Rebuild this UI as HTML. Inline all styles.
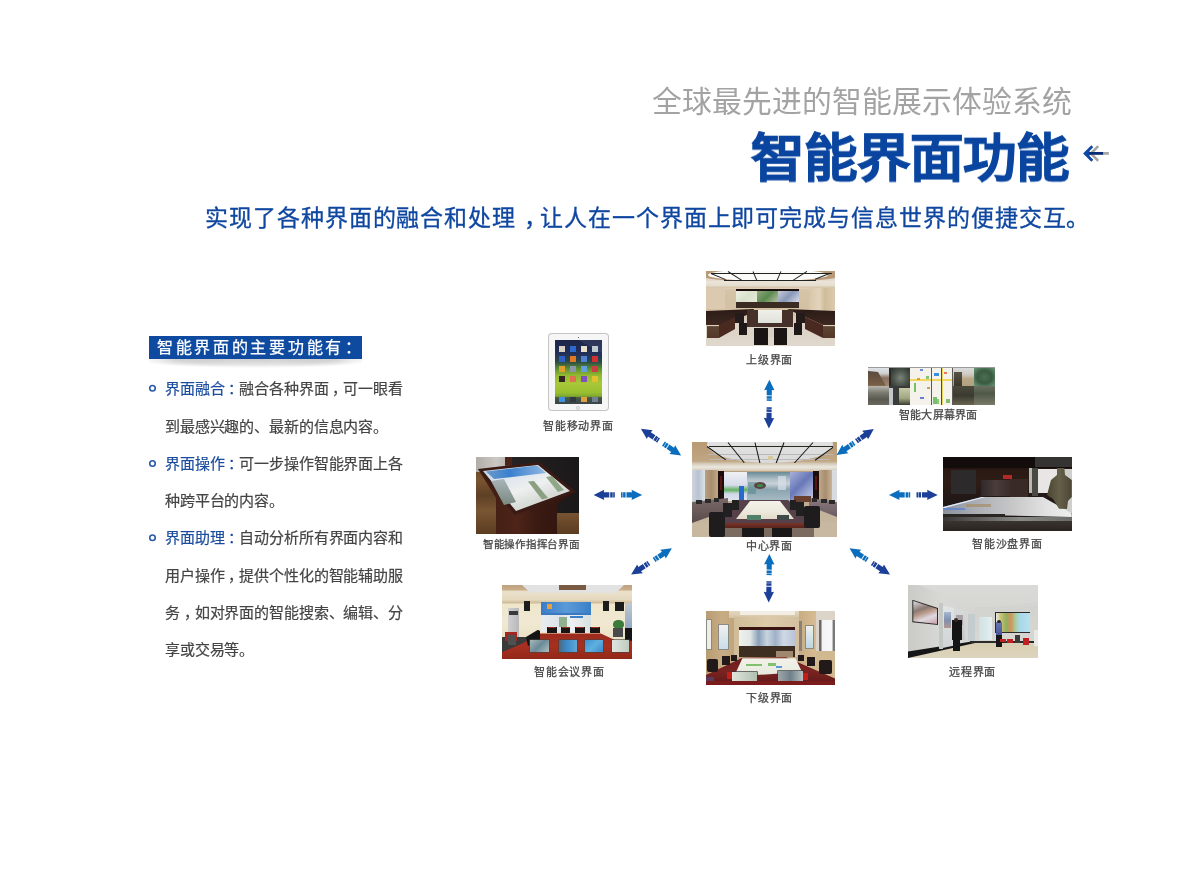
<!DOCTYPE html>
<html lang="zh-CN">
<head>
<meta charset="utf-8">
<style>
html,body{margin:0;padding:0;background:#fff;}
body{width:1200px;height:872px;position:relative;overflow:hidden;font-family:"Liberation Sans",sans-serif;}
.a{position:absolute;white-space:nowrap;line-height:1;will-change:transform;}
.sub{left:652px;top:87px;font-size:29.8px;color:#a3a3a3;}
.title{left:751px;top:133px;font-size:53.5px;font-weight:700;color:#0a46a0;-webkit-text-stroke:1px #0a46a0;transform-origin:0 0;transform:scaleY(.97);}
.desc{left:205px;top:207px;font-size:23px;letter-spacing:0.93px;color:#0f47a0;-webkit-text-stroke:0.3px #0f47a0;}
.box{left:149px;top:336px;width:213px;height:23px;background:#0d4aa0;}
.boxt{left:157px;top:340px;font-size:16px;color:#fff;letter-spacing:2.7px;-webkit-text-stroke:0.25px #fff;}
.boxt .p{left:.05em;}
.desc .p{left:.35em;}
.boxsh{left:149px;top:359px;width:213px;height:9px;background:linear-gradient(90deg,rgba(0,0,0,.18),rgba(0,0,0,.36) 12%,rgba(0,0,0,.22) 40%,rgba(0,0,0,.22) 60%,rgba(0,0,0,.36) 88%,rgba(0,0,0,.18));-webkit-mask-image:radial-gradient(ellipse 60% 100% at 50% 0%,rgba(0,0,0,.9) 0,rgba(0,0,0,.5) 60%,transparent 100%);}
.li{left:165px;font-size:15px;letter-spacing:-0.13px;color:#444;-webkit-text-stroke:0.2px #444;}
.li b{font-weight:normal;color:#1a4c9e;-webkit-text-stroke:0.2px #1a4c9e;}
.dot{width:3.4px;height:3.4px;border:1.8px solid #2858a6;border-radius:50%;left:149px;}
.p{position:relative;left:.25em;}
.lbl{font-size:11px;color:#444;-webkit-text-stroke:0.25px #444;}
.img{position:absolute;overflow:hidden;}
.img i{position:absolute;display:block;}
</style>
</head>
<body>
<div class="a sub">全球最先进的智能展示体验系统</div>
<div class="a title">智能界面功能</div>
<svg class="a" style="left:0;top:0" width="1200" height="200">
<polyline points="1098.2,146.2 1091,153.5 1098.2,160.8" fill="none" stroke="#a3a3a3" stroke-width="2.5"/>
<polyline points="1092.3,146.2 1085,153.5 1092.3,160.8" fill="none" stroke="#0d47a8" stroke-width="2.7" stroke-miterlimit="10"/>
<polygon points="1085.5,153.5 1089.5,150.2 1089.5,156.8" fill="#0d47a8"/>
<rect x="1089" y="152" width="14.5" height="2.8" fill="#0a2b72"/>
<rect x="1103.5" y="152" width="5.4" height="2.8" fill="#a8a8a8"/>
</svg>
<div class="a desc">实现了各种界面的融合和处理<span class="p">，</span>让人在一个界面上即可完成与信息世界的便捷交互。</div>

<div class="a boxsh"></div>
<div class="a box"></div>
<div class="a boxt">智能界面的主要功能有<span class="p">：</span></div>

<svg class="a" style="left:0;top:0" width="200" height="560">
<circle cx="152.5" cy="388.2" r="2.75" fill="none" stroke="#2a5aac" stroke-width="1.6"/>
<circle cx="152.5" cy="463.45" r="2.75" fill="none" stroke="#2a5aac" stroke-width="1.6"/>
<circle cx="152.5" cy="537.7" r="2.75" fill="none" stroke="#2a5aac" stroke-width="1.6"/>
</svg>
<div class="a li" style="top:381px"><b>界面融合<span class="p">：</span></b>融合各种界面<span class="p">，</span>可一眼看</div>
<div class="a li" style="top:419px">到最感兴趣的、最新的信息内容。</div>
<div class="a li" style="top:456px"><b>界面操作<span class="p">：</span></b>可一步操作智能界面上各</div>
<div class="a li" style="top:493px">种跨平台的内容。</div>
<div class="a li" style="top:530px"><b>界面助理<span class="p">：</span></b>自动分析所有界面内容和</div>
<div class="a li" style="top:568px">用户操作<span class="p">，</span>提供个性化的智能辅助服</div>
<div class="a li" style="top:605px">务<span class="p">，</span>如对界面的智能搜索、编辑、分</div>
<div class="a li" style="top:642px">享或交易等。</div>

<!-- images -->
<div class="img" style="left:706px;top:271px;width:129px;height:75px"><i style="left:0px;top:0px;width:129px;height:75px;background:linear-gradient(#d8c8b0 0,#e6ded2 14%,#ece6dc 20%,#d6c4a6 25%,#d4c0a2 52%,#dcd2c6 70%,#e0d8cc 100%)"></i><i style="left:-8px;top:-4px;width:145px;height:15px;border-radius:50%;background:#b89a78"></i><i style="left:1.5px;top:-2px;width:120px;height:12px;border-radius:50%;background:#fbfbfa"></i><i style="left:5px;top:2.3499999999999996px;width:121.0px;height:0.9px;background:#222;transform-origin:0 50%;transform:rotate(0.0deg)"></i><i style="left:18px;top:8.55px;width:92.0px;height:0.9px;background:#222;transform-origin:0 50%;transform:rotate(0.0deg)"></i><i style="left:22px;top:0.04999999999999999px;width:16.6px;height:0.9px;background:#222;transform-origin:0 50%;transform:rotate(32.7deg)"></i><i style="left:47px;top:-0.15000000000000002px;width:10.0px;height:0.9px;background:#222;transform-origin:0 50%;transform:rotate(66.5deg)"></i><i style="left:75px;top:-0.15000000000000002px;width:10.0px;height:0.9px;background:#222;transform-origin:0 50%;transform:rotate(113.5deg)"></i><i style="left:101px;top:0.04999999999999999px;width:16.6px;height:0.9px;background:#222;transform-origin:0 50%;transform:rotate(147.3deg)"></i><i style="left:5px;top:2.4499999999999997px;width:16.2px;height:0.7px;background:#222;transform-origin:0 50%;transform:rotate(22.5deg)"></i><i style="left:124px;top:2.4499999999999997px;width:16.2px;height:0.7px;background:#222;transform-origin:0 50%;transform:rotate(157.5deg)"></i><i style="left:0px;top:9.6px;width:129px;height:7.5px;background:linear-gradient(#ebe4d8,#e6dfd2 60%,#d4c2a4)"></i><i style="left:0px;top:17px;width:19px;height:21px;background:#dccab0"></i><i style="left:103px;top:17px;width:26px;height:23px;background:linear-gradient(90deg,#d8c6a8,#e2d4bc 40%,#d0bc9a 60%,#dccab0)"></i><i style="left:30px;top:17.6px;width:63px;height:2.6px;background:#1a0c0a"></i><i style="left:30px;top:20.2px;width:21px;height:11px;background:linear-gradient(135deg,#f0f0e4,#d8e2cc 50%,#e8e8d8)"></i><i style="left:51px;top:20.2px;width:21px;height:11px;background:linear-gradient(135deg,#90a880,#5a8a50 50%,#b8c0a0)"></i><i style="left:72px;top:20.2px;width:21px;height:11px;background:linear-gradient(135deg,#c8ccd8,#8898b8 50%,#d8dce8)"></i><i style="left:30px;top:31.2px;width:63px;height:6px;background:#3a2c22"></i><i style="left:0px;top:38px;width:48px;height:16px;clip-path:polygon(0.0px 2.0px,48.0px 0.0px,46.0px 4.0px,15.0px 16.0px,0.0px 16.0px);background:linear-gradient(#2a1a16,#3e2820)"></i><i style="left:1px;top:54px;width:12px;height:13px;background:linear-gradient(#e0d0c0 0,#e0d0c0 8%,#5e4432 12%,#54392a)"></i><i style="left:13px;top:46px;width:16px;height:21px;clip-path:polygon(0.0px 8.0px,16.0px 0.0px,16.0px 12.0px,0.0px 21.0px);background:#4a2a20"></i><i style="left:29px;top:42px;width:9px;height:10px;background:#241c1a"></i><i style="left:33px;top:52px;width:8px;height:12px;background:#1e1818"></i><i style="left:81px;top:38px;width:48px;height:16px;clip-path:polygon(0.0px 0.0px,48.0px 2.0px,48.0px 16.0px,36.0px 16.0px,18.0px 8.0px);background:linear-gradient(#2a1a16,#3e2820)"></i><i style="left:117px;top:54px;width:12px;height:13px;background:linear-gradient(#e0d0c0 0,#e0d0c0 8%,#5e4432 12%,#54392a)"></i><i style="left:99px;top:46px;width:18px;height:21px;clip-path:polygon(0.0px 0.0px,18.0px 8.0px,18.0px 21.0px,0.0px 12.0px);background:#4a2a20"></i><i style="left:90px;top:42px;width:9px;height:10px;background:#241c1a"></i><i style="left:88px;top:52px;width:8px;height:12px;background:#1e1818"></i><i style="left:41px;top:39px;width:46px;height:17px;background:#46302a"></i><i style="left:52px;top:39px;width:24px;height:13px;background:linear-gradient(#f0f0ea,#e0e2da)"></i><i style="left:48px;top:57px;width:14px;height:17px;background:#1a1414"></i><i style="left:68px;top:57px;width:13px;height:17px;background:#1a1414"></i><i style="left:62px;top:56px;width:6px;height:10px;background:#d8d0c4"></i></div>
<div class="img" style="left:548px;top:333px;width:61px;height:78px"><i style="left:0px;top:0px;width:61px;height:78px;background:#f6f6f6;border-radius:4px;box-shadow:inset 0 0 0 1px #c4c4c4"></i><i style="left:7px;top:7px;width:47px;height:64px;background:linear-gradient(#1c2448 0,#22305a 22%,#2a4a48 34%,#5a8a30 44%,#90b830 55%,#a8c838 68%,#98c030 82%,#80a830 88%,#485848 90%,#3a4248 100%)"></i><i style="left:30px;top:7px;width:24px;height:13px;clip-path:polygon(0.0px 0.0px,24.0px 0.0px,24.0px 13.0px);background:rgba(255,255,255,.08)"></i><i style="left:29.5px;top:3.5px;width:1.5px;height:1.5px;background:#333;border-radius:50%"></i><i style="left:28px;top:72.5px;width:4px;height:4px;border:0.6px solid #ccc;border-radius:50%;box-sizing:border-box"></i><i style="left:11.4px;top:12.9px;width:5.8px;height:5.8px;background:#d8d0c0"></i><i style="left:22.3px;top:12.9px;width:5.8px;height:5.8px;background:#2a6ad0"></i><i style="left:33.2px;top:12.9px;width:5.8px;height:5.8px;background:#e8e0c8"></i><i style="left:44.1px;top:12.9px;width:5.8px;height:5.8px;background:#c0c8d0"></i><i style="left:11.4px;top:23.0px;width:5.8px;height:5.8px;background:#3060c0"></i><i style="left:22.3px;top:23.0px;width:5.8px;height:5.8px;background:#e07a20"></i><i style="left:33.2px;top:23.0px;width:5.8px;height:5.8px;background:#5080d0"></i><i style="left:44.1px;top:23.0px;width:5.8px;height:5.8px;background:#d03030"></i><i style="left:11.4px;top:33.1px;width:5.8px;height:5.8px;background:#e0a030"></i><i style="left:22.3px;top:33.1px;width:5.8px;height:5.8px;background:#8898a8"></i><i style="left:33.2px;top:33.1px;width:5.8px;height:5.8px;background:#60a0e0"></i><i style="left:44.1px;top:33.1px;width:5.8px;height:5.8px;background:#c84040"></i><i style="left:11.4px;top:43.199999999999996px;width:5.8px;height:5.8px;background:#302820"></i><i style="left:22.3px;top:43.199999999999996px;width:5.8px;height:5.8px;background:#e07050"></i><i style="left:33.2px;top:43.199999999999996px;width:5.8px;height:5.8px;background:#8050c0"></i><i style="left:44.1px;top:43.199999999999996px;width:5.8px;height:5.8px;background:#e0c030"></i><i style="left:11.4px;top:63.8px;width:5.8px;height:4.8px;background:#4090e0"></i><i style="left:22.3px;top:63.8px;width:5.8px;height:4.8px;background:#303840"></i><i style="left:33.2px;top:63.8px;width:5.8px;height:4.8px;background:#e0a040"></i><i style="left:44.1px;top:63.8px;width:5.8px;height:4.8px;background:#708090"></i></div>
<div class="img" style="left:868px;top:367px;width:127px;height:38px"><i style="left:0px;top:0px;width:127px;height:38px;background:#5a5a4c"></i><i style="left:0px;top:0px;width:127px;height:0.8px;background:#9a9a9a"></i><i style="left:0px;top:0.8px;width:21px;height:18px;background:linear-gradient(#dfe2e8 0,#d0d0d0 30%,#8a7060 55%,#a08a70 100%)"></i><i style="left:0px;top:4px;width:18px;height:14.7px;clip-path:polygon(0.0px 0.0px,10.0px 1.0px,14.0px 8.0px,18.0px 14.7px,0.0px 14.7px);background:linear-gradient(#5a4a3c,#7a6048)"></i><i style="left:21px;top:0.8px;width:1.8px;height:18px;background:#2a2a28"></i><i style="left:22.8px;top:0.8px;width:19.2px;height:18px;background:radial-gradient(ellipse at 50% 55%,#7a8478 0,#4a524a 55%,#2a302a 100%)"></i><i style="left:21px;top:18.7px;width:21px;height:2.6px;background:#3a3a38"></i><i style="left:0px;top:18.7px;width:21px;height:19.3px;background:linear-gradient(#b8b8b0 0,#7a7a70 35%,#5a5850 70%,#6a6a60)"></i><i style="left:21px;top:21.3px;width:4px;height:16.7px;background:#c4c8cc"></i><i style="left:25px;top:21.3px;width:6px;height:16.7px;background:#3a3c3a"></i><i style="left:31px;top:21.3px;width:11px;height:16.7px;background:linear-gradient(#c8c8a8,#a0a880 60%,#3a3a30)"></i><i style="left:42px;top:0.8px;width:43px;height:37.2px;background:#f4f2ea"></i><i style="left:42px;top:12px;width:43px;height:1.7px;background:#f0d860"></i><i style="left:46.1px;top:15.8px;width:2.1px;height:9px;background:#78c068"></i><i style="left:52px;top:2px;width:3px;height:1.5px;background:#6a8ae0"></i><i style="left:49px;top:11px;width:2.5px;height:1.5px;background:#e0a030"></i><i style="left:59px;top:20px;width:3px;height:1.5px;background:#c8a060"></i><i style="left:52px;top:30px;width:4px;height:1.5px;background:#6a7ad0"></i><i style="left:58px;top:9px;width:2.5px;height:2.5px;background:#80c878"></i><i style="left:66px;top:6px;width:5px;height:2.5px;background:#3a90e0"></i><i style="left:73px;top:0.8px;width:1.6px;height:37.2px;background:#e8d860"></i><i style="left:63px;top:0.8px;width:1.1px;height:37.2px;background:#5a5a5a"></i><i style="left:73px;top:0.8px;width:1px;height:37.2px;background:#4a4a4a"></i><i style="left:84.3px;top:0.8px;width:0.9px;height:37.2px;background:#5a5a5a"></i><i style="left:65px;top:30px;width:4px;height:7px;background:#78c070"></i><i style="left:69px;top:32px;width:2px;height:5px;background:#90c878"></i><i style="left:78px;top:32px;width:4px;height:4px;background:#80c070"></i><i style="left:76px;top:5px;width:3px;height:1.5px;background:#e87a50"></i><i style="left:85.2px;top:0.8px;width:21px;height:18px;background:linear-gradient(#dcdcdc 0,#d0ccc4 35%,#b8a888 60%,#b0a080)"></i><i style="left:86px;top:5px;width:8px;height:14px;background:linear-gradient(#5a5448,#3a3628)"></i><i style="left:106.2px;top:0.8px;width:20.8px;height:18px;background:radial-gradient(ellipse at 50% 50%,#4a7050 0,#3a5a40 50%,#6a9a78 100%)"></i><i style="left:85.2px;top:18.7px;width:21px;height:19.3px;background:linear-gradient(#4a4a3c 0,#3a3a30 50%,#6a6450)"></i><i style="left:106.2px;top:18.7px;width:20.8px;height:19.3px;background:linear-gradient(#6a7060 0,#505848 40%,#7a7a68)"></i></div>
<div class="img" style="left:476px;top:457px;width:103px;height:77px"><i style="left:0px;top:0px;width:103px;height:77px;background:linear-gradient(180deg,#5a3a1e,#7a5430 30%,#5e4024 50%,#7a5634 70%,#5a3c20)"></i><i style="left:0px;top:0px;width:29px;height:15px;background:linear-gradient(90deg,#b0aca8,#ccc8c4 70%,#bcb8b4)"></i><i style="left:29px;top:0px;width:7px;height:8px;background:#4a2418"></i><i style="left:36px;top:0px;width:67px;height:56px;background:linear-gradient(90deg,#242222,#1a1818)"></i><i style="left:2px;top:12px;width:98px;height:65px;clip-path:polygon(0.0px 0.0px,18.0px 29.0px,18.0px 65.0px,79.0px 65.0px,79.0px 35.0px,98.0px 23.0px);background:linear-gradient(90deg,#3e1c14,#4e2418 40%,#3a1a12 60%,#2e140e)"></i><i style="left:2px;top:5px;width:98px;height:53px;clip-path:polygon(0.0px 7.0px,61.3px 0.0px,98.0px 29.7px,36.7px 53.0px);background:#3a1a14"></i><i style="left:7px;top:8px;width:87px;height:46px;clip-path:polygon(0.0px 6.0px,55.0px 0.0px,87.0px 26.0px,33.0px 46.0px);background:linear-gradient(160deg,#b8cce0 0,#dfe6ee 30%,#eef0f0 50%,#d8dcd8 70%,#c8d0c8 100%)"></i><i style="left:10px;top:8.5px;width:60px;height:13.5px;clip-path:polygon(0.0px 6.0px,51.0px 0.0px,60.0px 7.5px,8.0px 13.5px);background:linear-gradient(90deg,#6a9ac8,#3a80d0 40%,#90b8e0)"></i><i style="left:15px;top:22px;width:25px;height:26px;clip-path:polygon(0.0px 2.0px,13.0px 0.0px,25.0px 23.0px,13.0px 26.0px);background:linear-gradient(#a8b4b8,#7a8a80)"></i><i style="left:52px;top:24px;width:20px;height:18.5px;clip-path:polygon(0.0px 0.6px,6.0px 0.0px,20.0px 17.0px,14.0px 18.5px);background:#8aa080"></i><i style="left:70px;top:19px;width:18px;height:16px;clip-path:polygon(0.0px 1.0px,6.0px 0.0px,18.0px 14.0px,12.0px 16.0px);background:#90a888"></i></div>
<div class="img" style="left:692px;top:442px;width:145px;height:95px"><i style="left:0px;top:0px;width:145px;height:95px;background:linear-gradient(#b89a74 0,#c0a682 20%,#dcd6ca 24%,#e6e2da 28%,#b8a080 31%,#bca688 60%,#c4b49e 75%,#c8b8a2 100%)"></i><i style="left:14.7px;top:-16px;width:126px;height:37px;border-radius:50%;background:linear-gradient(#e6e6e6,#dadada)"></i><i style="left:17px;top:3.6px;width:124.0px;height:0.8px;background:#2a2620;transform-origin:0 50%;transform:rotate(0.0deg)"></i><i style="left:16px;top:11.8px;width:125.0px;height:0.4px;background:#b8b8b8;transform-origin:0 50%;transform:rotate(0.0deg)"></i><i style="left:18px;top:16.8px;width:120.0px;height:0.4px;background:#bbbbbb;transform-origin:0 50%;transform:rotate(0.0deg)"></i><i style="left:36px;top:-0.5px;width:25.6px;height:1px;background:#111;transform-origin:0 50%;transform:rotate(51.3deg)"></i><i style="left:63px;top:-0.5px;width:21.6px;height:1px;background:#111;transform-origin:0 50%;transform:rotate(76.6deg)"></i><i style="left:92px;top:-0.5px;width:22.5px;height:1px;background:#111;transform-origin:0 50%;transform:rotate(110.9deg)"></i><i style="left:121px;top:-0.5px;width:28.3px;height:1px;background:#111;transform-origin:0 50%;transform:rotate(132.1deg)"></i><i style="left:15px;top:4.05px;width:23.3px;height:0.9px;background:#111;transform-origin:0 50%;transform:rotate(35.4deg)"></i><i style="left:141px;top:4.55px;width:22.2px;height:0.9px;background:#111;transform-origin:0 50%;transform:rotate(144.2deg)"></i><i style="left:76px;top:14px;width:5px;height:4px;background:#d8c8a0"></i><i style="left:0px;top:21px;width:145px;height:8px;background:linear-gradient(#cfc4b0,#ebe8e0 50%,#d4c8b4)"></i><i style="left:0px;top:28px;width:12.8px;height:36px;background:linear-gradient(90deg,#cfd4d8,#b8c4d4 50%,#dde2e6)"></i><i style="left:140px;top:28px;width:5px;height:36px;background:#d8dce0"></i><i style="left:12.8px;top:28px;width:13.2px;height:33px;background:linear-gradient(90deg,#b8a080,#a88e70 50%,#c0a888)"></i><i style="left:126.8px;top:28px;width:13.2px;height:33px;background:linear-gradient(90deg,#c0a888,#a88e70 50%,#c8b498)"></i><i style="left:26px;top:29px;width:6px;height:30px;background:#1c0e0c"></i><i style="left:120.6px;top:29px;width:6.2px;height:30px;background:#1c0e0c"></i><i style="left:27.5px;top:34px;width:2px;height:14px;background:#6a1a14;opacity:.8"></i><i style="left:122.5px;top:34px;width:2px;height:14px;background:#6a1a14;opacity:.8"></i><i style="left:32px;top:29.5px;width:23px;height:29.5px;background:linear-gradient(#f0f0f2 0,#d8dcec 45%,#60b060 62%,#d0d8e8 75%,#e0e4ee 100%)"></i><i style="left:47px;top:44px;width:5px;height:15px;background:#2a6ad0"></i><i style="left:55px;top:29.5px;width:42.7px;height:29.5px;background:linear-gradient(#6a8a98 0,#b0c0c8 25%,#c8d0d8 40%,#8aa4b0 60%,#a8bcc4 100%)"></i><i style="left:56px;top:40px;width:8px;height:12px;background:#5a8a90;opacity:.6"></i><i style="left:86px;top:34px;width:8px;height:14px;background:#d8e0e8;opacity:.7"></i><i style="left:62px;top:40px;width:12px;height:7px;background:#5a4440;border-radius:50%"></i><i style="left:65px;top:42px;width:6px;height:3px;background:#3a8a50;border-radius:50%"></i><i style="left:97.7px;top:29.5px;width:23px;height:29.5px;background:linear-gradient(135deg,#a8b0d8,#6878b8 45%,#98a4d0 70%,#c0c8e4)"></i><i style="left:0px;top:56px;width:36px;height:25px;clip-path:polygon(0.0px 4.0px,36.0px 0.0px,36.0px 12.0px,0.0px 25.0px);background:linear-gradient(#7a6868,#5a4c4c)"></i><i style="left:117px;top:56px;width:28px;height:19px;clip-path:polygon(28.0px 4.0px,0.0px 0.0px,0.0px 8.0px,28.0px 19.0px);background:linear-gradient(#8a7a80,#6a5c60)"></i><i style="left:4px;top:58px;width:6px;height:4px;background:#2a2a2a"></i><i style="left:13px;top:57px;width:6px;height:4px;background:#2a2a2a"></i><i style="left:22px;top:56px;width:5px;height:4px;background:#2a2a2a"></i><i style="left:120px;top:56px;width:5px;height:4px;background:#2a2a2a"></i><i style="left:129px;top:57px;width:6px;height:4px;background:#2a2a2a"></i><i style="left:137px;top:58px;width:6px;height:4px;background:#2a2a2a"></i><i style="left:102px;top:54px;width:17px;height:6px;background:#6a4030"></i><i style="left:21px;top:58px;width:101px;height:23px;clip-path:polygon(27.0px 0.0px,75.0px 0.0px,101.0px 23.0px,0.0px 23.0px);background:#56404a"></i><i style="left:21px;top:80.5px;width:101px;height:5.5px;background:linear-gradient(#7a3428,#5a241c)"></i><i style="left:44px;top:59px;width:58px;height:18px;clip-path:polygon(14.0px 0.0px,44.0px 0.0px,58.0px 18.0px,0.0px 18.0px);background:linear-gradient(#f4f2ea,#ece8dc 60%,#e0dcc8)"></i><i style="left:55px;top:73px;width:14px;height:5px;background:#50806a"></i><i style="left:85px;top:73px;width:12px;height:5px;background:#404848"></i><i style="left:30px;top:86px;width:92px;height:9px;background:#7a6a60"></i><i style="left:50px;top:86px;width:22px;height:9px;background:#1a1818"></i><i style="left:80px;top:86px;width:20px;height:9px;background:#1a1818"></i><i style="left:16.6px;top:69.6px;width:16px;height:25px;background:#1e1c1c;border-radius:2px"></i><i style="left:31px;top:61px;width:9px;height:14px;background:#202020"></i><i style="left:40px;top:58px;width:7px;height:10px;background:#202020"></i><i style="left:111.8px;top:64px;width:16px;height:22px;background:#1e1c1c;border-radius:2px"></i><i style="left:104px;top:60px;width:8px;height:14px;background:#202020"></i><i style="left:98px;top:58px;width:6px;height:10px;background:#202020"></i><i style="left:0px;top:81px;width:16px;height:14px;background:#c8b8a0"></i><i style="left:130px;top:80px;width:15px;height:15px;background:#c8b8a2"></i></div>
<div class="img" style="left:943px;top:457px;width:129px;height:74px"><i style="left:0px;top:0px;width:129px;height:74px;background:linear-gradient(#120c0a 0,#120c0a 14%,#2a1814 16%,#2e1c16 35%,#221816 55%,#1e1a18 100%)"></i><i style="left:92px;top:0px;width:37px;height:10px;background:#363432"></i><i style="left:7.8px;top:13.3px;width:24.8px;height:24px;background:#2c2a2a"></i><i style="left:38px;top:23.4px;width:29px;height:16px;background:linear-gradient(90deg,#2e2a2a,#4a3c3a 50%,#3a2e2c)"></i><i style="left:60.1px;top:17.9px;width:9px;height:4.6px;background:#b02a28"></i><i style="left:67px;top:22px;width:18px;height:18px;background:#3a2a26"></i><i style="left:85.7px;top:10.6px;width:3.6px;height:25.4px;background:#b8b8b4"></i><i style="left:89.3px;top:10.6px;width:5.5px;height:28px;background:#4a4a44"></i><i style="left:94.8px;top:11.5px;width:20.2px;height:24.7px;background:#e8e6e4"></i><i style="left:114px;top:11.5px;width:15px;height:44px;background:#cfcfcb"></i><i style="left:0px;top:39.5px;width:128.8px;height:20.5px;clip-path:polygon(0.0px 10.5px,40.8px 0.0px,100.0px 0.5px,128.8px 16.9px,128.8px 20.5px,0.0px 17.8px);background:linear-gradient(90deg,#8a929c 0,#aaaeb4 25%,#c8c8c8 55%,#e2e2e2 80%,#eeeeee 100%)"></i><i style="left:0px;top:39.5px;width:42px;height:12.100000000000001px;clip-path:polygon(0.0px 10.5px,40.8px 0.0px,42.0px 0.7px,0.0px 12.1px);background:#e0ecff"></i><i style="left:0px;top:51px;width:22px;height:2px;background:#6a88c8"></i><i style="left:23.4px;top:46.8px;width:25px;height:3px;background:#a89070;opacity:.8"></i><i style="left:0px;top:60px;width:129px;height:4px;background:linear-gradient(90deg,#3a3836,#8a8a88 60%,#6a6a68)"></i><i style="left:0px;top:57.3px;width:62px;height:3px;background:#2a2624"></i><i style="left:0px;top:63.8px;width:129px;height:10.2px;background:linear-gradient(#3a3430,#2a2420)"></i><i style="left:104px;top:10.6px;width:24.80000000000001px;height:41.4px;clip-path:polygon(10.0px 0.0px,17.4px 0.0px,18.0px 7.4px,24.8px 12.4px,24.8px 29.4px,21.0px 33.4px,20.0px 41.4px,12.0px 41.2px,6.0px 31.4px,0.0px 27.4px,4.0px 12.4px,10.0px 7.4px);background:linear-gradient(90deg,#4a4632,#66604a 50%,#4a4434)"></i></div>
<div class="img" style="left:502px;top:585px;width:130px;height:74px"><i style="left:0px;top:0px;width:130px;height:74px;background:linear-gradient(#c0a080 0,#c8ac88 6%,#ece2cc 9%,#e4d8be 20%,#d0bc98 24%,#efe6cc 26%,#f0e8d2 50%,#ece2c8 70%)"></i><i style="left:20px;top:0px;width:102px;height:8px;clip-path:polygon(0.0px 0.0px,102.0px 0.0px,94.0px 8.0px,8.0px 7.5px);background:#e2e2e2"></i><i style="left:56.7px;top:0px;width:27.3px;height:4.5px;background:#7a5a40"></i><i style="left:5.8px;top:23px;width:11.5px;height:30px;background:linear-gradient(90deg,#d0d0d0,#b8b8b8)"></i><i style="left:7px;top:26px;width:9px;height:4px;background:#3a3a3a"></i><i style="left:38.8px;top:16.7px;width:50px;height:11px;background:linear-gradient(90deg,#3a7cc8,#5a9ad8 50%,#3a80c8)"></i><i style="left:45px;top:19px;width:5px;height:5px;background:#e8a040"></i><i style="left:38.8px;top:27.7px;width:50px;height:2px;background:#3a78c0"></i><i style="left:38.8px;top:29.7px;width:50px;height:17px;background:linear-gradient(90deg,#e8ecf0,#dde4e8 40%,#eef0f2 60%,#d8e0e0)"></i><i style="left:57px;top:32px;width:8px;height:10px;background:#90b090"></i><i style="left:68px;top:31px;width:13px;height:2px;background:#3a80c8"></i><i style="left:22px;top:15.8px;width:6.3px;height:10.6px;background:#1c1c1c"></i><i style="left:100.6px;top:15.8px;width:6.4px;height:10.6px;background:#1c1c1c"></i><i style="left:113px;top:16.7px;width:8.7px;height:9.2px;background:#1c1c1c"></i><i style="left:122.6px;top:18px;width:7.4px;height:25px;background:linear-gradient(#c0c8d0,#90a8c0)"></i><i style="left:122.6px;top:43px;width:7.4px;height:20px;background:#141414"></i><i style="left:110.7px;top:35px;width:11px;height:9px;background:#3a7a3a;border-radius:45%"></i><i style="left:111px;top:43px;width:9.8px;height:9px;background:#4a4a4a"></i><i style="left:45.2px;top:42.4px;width:9.7px;height:6px;background:#1a1414"></i><i style="left:59px;top:42.4px;width:9px;height:6px;background:#1a1414"></i><i style="left:73px;top:42.4px;width:9.7px;height:6px;background:#1a1414"></i><i style="left:87.8px;top:42.4px;width:10px;height:6px;background:#1a1414"></i><i style="left:46px;top:41.5px;width:8px;height:1.5px;background:#9a3020"></i><i style="left:59.5px;top:41.5px;width:8px;height:1.5px;background:#9a3020"></i><i style="left:74px;top:41.5px;width:8px;height:1.5px;background:#9a3020"></i><i style="left:88.5px;top:41.5px;width:8px;height:1.5px;background:#9a3020"></i><i style="left:0px;top:52px;width:38px;height:22px;background:#3a3a3a"></i><i style="left:0px;top:48.4px;width:130px;height:25.6px;clip-path:polygon(0.0px 18.6px,21.0px 9.6px,38.0px 0.0px,98.8px 0.0px,114.4px 7.3px,130.0px 7.3px,130.0px 25.6px,0.0px 25.6px);background:linear-gradient(#9a2a1c,#a83020 50%,#922818)"></i><i style="left:0px;top:52px;width:21px;height:15px;clip-path:polygon(0.0px 0.0px,21.0px 0.0px,21.0px 6.0px,0.0px 15.0px);background:#3a3a3a"></i><i style="left:3px;top:46.5px;width:12.4px;height:9px;background:#a02820"></i><i style="left:6px;top:50px;width:8px;height:10px;background:#505050"></i><i style="left:24px;top:44.7px;width:14px;height:16.299999999999997px;clip-path:polygon(0.0px 7.3px,12.0px 0.0px,14.0px 1.3px,14.0px 11.3px,2.0px 16.3px);background:#141414"></i><i style="left:28.3px;top:54.8px;width:18.3px;height:11.9px;background:linear-gradient(135deg,#a8b8b8,#6a8a98 50%,#b0c0c0);box-shadow:0 0 0 .6px #444"></i><i style="left:57.2px;top:54.8px;width:17.8px;height:11.9px;background:linear-gradient(90deg,#506878,#3a88c8 40%,#60a8d8);box-shadow:0 0 0 .6px #444"></i><i style="left:82.7px;top:54.8px;width:17.9px;height:11.9px;background:linear-gradient(135deg,#3a90d0,#60b0e0 50%,#3a88c8);box-shadow:0 0 0 .6px #444"></i><i style="left:109.8px;top:54.8px;width:17.2px;height:11.9px;background:linear-gradient(90deg,#e0e4e0,#c0ccc0);box-shadow:0 0 0 .6px #444"></i></div>
<div class="img" style="left:706px;top:611px;width:129px;height:74px"><i style="left:0px;top:0px;width:129px;height:74px;background:#c4a880"></i><i style="left:0px;top:0px;width:28.2px;height:64px;background:linear-gradient(90deg,#b89c74,#c8ac84 60%,#c0a47c)"></i><i style="left:22.7px;top:0px;width:76px;height:6.5px;background:linear-gradient(#e4d8c0,#d4c4a4)"></i><i style="left:33.7px;top:0px;width:55px;height:3.5px;background:#f2eee4"></i><i style="left:28.2px;top:6px;width:65px;height:40px;background:linear-gradient(90deg,#d0bc98,#dccaa8 50%,#d4c0a0)"></i><i style="left:33.2px;top:15.6px;width:55.4px;height:3.7px;background:#3a1410"></i><i style="left:33.2px;top:19.3px;width:55.4px;height:15.6px;background:linear-gradient(90deg,#f0f2ee 0,#dfe6e4 20%,#8aa0b8 35%,#c8d4e0 50%,#a0b0c8 65%,#d0d8e4 80%,#b8c4d8 100%)"></i><i style="left:33.2px;top:34.9px;width:55.4px;height:11.4px;background:#3e2e22"></i><i style="left:70px;top:40px;width:16.8px;height:6.3px;background:#a08870"></i><i style="left:0px;top:8.3px;width:5.7px;height:31.2px;background:#eeeee8;box-shadow:inset 0 0 0 1px #8a8a84"></i><i style="left:11.7px;top:13.3px;width:11px;height:25.7px;background:linear-gradient(#f0f2f0,#c8dce8);box-shadow:inset 0 0 0 1px #8a8a80"></i><i style="left:93.2px;top:0px;width:16.5px;height:66px;background:linear-gradient(90deg,#c8ac84,#d6bc94)"></i><i style="left:93.2px;top:10px;width:3px;height:30px;background:#8a8078"></i><i style="left:99px;top:14.2px;width:9.3px;height:24.3px;background:linear-gradient(#f0f2ee,#b8d4e4);box-shadow:inset 0 0 0 1px #8a8a80"></i><i style="left:109.7px;top:0px;width:19.3px;height:43px;background:#dcd4c8"></i><i style="left:113px;top:8.7px;width:16px;height:34px;background:linear-gradient(90deg,#6a6a6a 0,#6a6a6a 12%,#f4f4f4 20%,#f8f8f8 80%,#7a7a7a 90%)"></i><i style="left:109.7px;top:40px;width:19.3px;height:27px;background:#d0b890"></i><i style="left:0px;top:46.3px;width:129px;height:27.700000000000003px;clip-path:polygon(0.0px 17.7px,36.4px 0.5px,80.3px 0.0px,129.0px 21.1px,129.0px 27.7px,0.0px 27.7px);background:linear-gradient(#6a1c1a,#7a2422 50%,#5e1818)"></i><i style="left:0px;top:66px;width:8px;height:8px;background:#5a3a5a"></i><i style="left:28px;top:47.3px;width:68px;height:18.299999999999997px;clip-path:polygon(8.4px 0.0px,61.5px 0.0px,68.0px 13.7px,0.0px 18.3px);background:linear-gradient(#f2f2ea,#e6e8dc)"></i><i style="left:40px;top:53px;width:16px;height:2px;background:#80c070"></i><i style="left:62px;top:52px;width:8px;height:2.5px;background:#80c070"></i><i style="left:70px;top:55px;width:6px;height:2px;background:#5a9ad8"></i><i style="left:26.4px;top:61px;width:24.6px;height:9.2px;background:linear-gradient(90deg,#e0e4dc,#b0c0b0);box-shadow:0 0 0 .7px #333"></i><i style="left:72px;top:60px;width:24.9px;height:10.2px;background:linear-gradient(90deg,#a0a8a8,#70808a 50%,#b8c0c0);box-shadow:0 0 0 .7px #333"></i><i style="left:21px;top:61px;width:5.4px;height:7.4px;background:#c02018"></i><i style="left:97px;top:62px;width:5px;height:7px;background:#c02018"></i><i style="left:0px;top:70.2px;width:129px;height:3.8px;background:#7a1c1c"></i><i style="left:1px;top:48.2px;width:10.7px;height:12.8px;background:#221a1a;border-radius:2px"></i><i style="left:15.8px;top:45.4px;width:7.8px;height:8.3px;background:#221a1a"></i><i style="left:25.4px;top:43.6px;width:5.6px;height:6.4px;background:#221a1a"></i><i style="left:113.4px;top:49px;width:12.8px;height:13.9px;background:#221a1a;border-radius:2px"></i><i style="left:100.5px;top:46.3px;width:8.3px;height:9.2px;background:#221a1a"></i><i style="left:92.3px;top:44px;width:5.5px;height:6px;background:#221a1a"></i></div>
<div class="img" style="left:908px;top:585px;width:130px;height:73px"><i style="left:0px;top:0px;width:130px;height:73px;background:#d4d4d0"></i><i style="left:10.8px;top:0px;width:119.2px;height:23.4px;clip-path:polygon(0.0px 0.0px,119.2px 0.0px,119.2px 17.0px,56.2px 23.4px);background:linear-gradient(#dadad6,#d6d6d2)"></i><i style="left:0px;top:0px;width:67px;height:67.4px;clip-path:polygon(0.0px 0.0px,10.8px 0.0px,67.0px 23.4px,67.0px 56.4px,0.0px 67.4px);background:linear-gradient(90deg,#cacac6,#d8d8d4 50%,#d4d4d0)"></i><i style="left:67px;top:22px;width:63px;height:37px;background:linear-gradient(#d2d2ce,#d6d6d2)"></i><i style="left:0px;top:57px;width:130px;height:16px;clip-path:polygon(0.0px 13.0px,67.0px 0.0px,130.0px 2.2px,130.0px 16.0px,0.0px 16.0px);background:linear-gradient(#d8ceb2,#dcd4bc)"></i><i style="left:0px;top:56px;width:67px;height:17px;clip-path:polygon(0.0px 10.5px,67.0px 0.0px,67.0px 2.0px,0.0px 17.0px);background:#161616"></i><i style="left:62px;top:56.4px;width:68px;height:1.2px;background:#2a2a2a"></i><i style="left:4.3px;top:14.7px;width:25.7px;height:25.3px;clip-path:polygon(0.0px 0.0px,25.7px 8.3px,25.7px 25.3px,0.0px 22.5px);background:#2a2a2a"></i><i style="left:5.3px;top:16px;width:23.7px;height:23px;clip-path:polygon(0.0px 0.0px,23.7px 7.8px,23.7px 23.0px,0.0px 20.3px);background:linear-gradient(160deg,#e0e0e8 0,#8a7a70 35%,#b89888 50%,#e0d8e0 70%,#c8a0a8 100%)"></i><i style="left:31px;top:18.4px;width:3.6px;height:45.4px;background:#c4c8c4"></i><i style="left:34.6px;top:20.7px;width:11.899999999999999px;height:42.2px;clip-path:polygon(0.0px 0.0px,11.9px 2.3px,11.9px 39.8px,0.0px 42.2px);background:linear-gradient(#e0e4e4,#d0d4d4)"></i><i style="left:36px;top:27px;width:7px;height:16px;background:linear-gradient(#a8b8d0,#8090b0 50%,#b09890)"></i><i style="left:46.5px;top:24.3px;width:10.100000000000001px;height:32.099999999999994px;clip-path:polygon(0.0px 0.0px,10.1px 2.2px,10.1px 30.5px,0.0px 32.1px);background:linear-gradient(#d8dcdc,#c0c4c8)"></i><i style="left:48px;top:30px;width:7px;height:10px;background:#a8a0a8"></i><i style="left:60.3px;top:29.4px;width:6.7px;height:27px;background:#c4ccd0"></i><i style="left:70.7px;top:31.7px;width:13.3px;height:23.8px;background:linear-gradient(90deg,#cfe0e4,#e4eff0)"></i><i style="left:87px;top:27px;width:35px;height:20.5px;background:#2a2a2a"></i><i style="left:87.7px;top:27.5px;width:33.9px;height:19.8px;background:linear-gradient(90deg,#e8e8e0 0,#c8c070 15%,#90b060 30%,#d89060 45%,#a8c890 55%,#a8d8e8 70%,#b8e0f0 100%)"></i><i style="left:43.5px;top:35px;width:10px;height:20px;background:#141414"></i><i style="left:45px;top:55px;width:7px;height:10.6px;background:#141414"></i><i style="left:46px;top:32.6px;width:4px;height:4px;background:#3a2a20;border-radius:50%"></i><i style="left:87.7px;top:37px;width:6.3px;height:13px;background:linear-gradient(#6a78b0,#48549a)"></i><i style="left:88.2px;top:50px;width:5.5px;height:11.5px;background:#161616"></i><i style="left:88.5px;top:34.9px;width:4px;height:3px;background:#2a2020;border-radius:50%"></i><i style="left:92.3px;top:53.7px;width:5.5px;height:3.7px;background:#c02020"></i><i style="left:98.7px;top:53.7px;width:6px;height:4.6px;background:#c02020"></i><i style="left:107px;top:50px;width:5px;height:8.3px;background:#3a3a38"></i><i style="left:115.2px;top:53px;width:6px;height:6.6px;background:#c02020"></i><i style="left:126px;top:44.5px;width:4px;height:16.5px;background:#e8e8e4"></i></div>
<!-- labels -->
<div class="a lbl" style="left:745.5px;top:354.5px;letter-spacing:0.83px">上级界面</div>
<div class="a lbl" style="left:542.5px;top:420.5px;letter-spacing:0.76px">智能移动界面</div>
<div class="a lbl" style="left:899.2px;top:409.5px;letter-spacing:0.17px">智能大屏幕界面</div>
<div class="a lbl" style="left:483.2px;top:538.8px;font-size:10.6px;letter-spacing:-0.3px">智能操作指挥台界面</div>
<div class="a lbl" style="left:745.9px;top:540.5px;letter-spacing:0.70px">中心界面</div>
<div class="a lbl" style="left:972.3px;top:539.4px;letter-spacing:0.82px">智能沙盘界面</div>
<div class="a lbl" style="left:533.6px;top:666.5px;letter-spacing:0.76px">智能会议界面</div>
<div class="a lbl" style="left:745.5px;top:692.5px;letter-spacing:0.83px">下级界面</div>
<div class="a lbl" style="left:948.7px;top:666.5px;letter-spacing:0.80px">远程界面</div>

<!-- arrows -->
<svg class="a" style="left:0;top:0" width="1200" height="872" id="arrows">
<g transform="translate(769.15,404.10) rotate(90.59)"><path fill="#1c4098" d="M13.80,-5.2L24.40,0L13.80,5.2L14.20,2.55L8.70,2.55L8.70,-2.55L14.20,-2.55ZM5.30,-2.55h2.5v5.1h-2.5ZM3.20,-2.55h1.6v5.1h-1.6Z"/><g transform="scale(-1,1)"><path fill="#0b6dbd" d="M13.80,-5.2L24.40,0L13.80,5.2L14.20,2.55L8.70,2.55L8.70,-2.55L14.20,-2.55ZM5.30,-2.55h2.5v5.1h-2.5ZM3.20,-2.55h1.6v5.1h-1.6Z"/></g></g>
<g transform="translate(661.00,442.10) rotate(33.49)"><path fill="#0b6dbd" d="M13.50,-5.2L24.10,0L13.50,5.2L13.90,2.55L8.40,2.55L8.40,-2.55L13.90,-2.55ZM5.00,-2.55h2.5v5.1h-2.5ZM2.90,-2.55h1.6v5.1h-1.6Z"/><g transform="scale(-1,1)"><path fill="#1c4098" d="M13.50,-5.2L24.10,0L13.50,5.2L13.90,2.55L8.40,2.55L8.40,-2.55L13.90,-2.55ZM5.00,-2.55h2.5v5.1h-2.5ZM2.90,-2.55h1.6v5.1h-1.6Z"/></g></g>
<g transform="translate(855.20,442.05) rotate(-35.05)"><path fill="#1c4098" d="M12.12,-5.2L22.72,0L12.12,5.2L12.52,2.55L7.02,2.55L7.02,-2.55L12.52,-2.55ZM3.62,-2.55h2.5v5.1h-2.5ZM1.52,-2.55h1.6v5.1h-1.6Z"/><g transform="scale(-1,1)"><path fill="#0b6dbd" d="M12.12,-5.2L22.72,0L12.12,5.2L12.52,2.55L7.02,2.55L7.02,-2.55L12.52,-2.55ZM3.62,-2.55h2.5v5.1h-2.5ZM1.52,-2.55h1.6v5.1h-1.6Z"/></g></g>
<g transform="translate(617.90,494.90) rotate(0.00)"><path fill="#0b6dbd" d="M13.70,-5.2L24.30,0L13.70,5.2L14.10,2.55L8.60,2.55L8.60,-2.55L14.10,-2.55ZM5.20,-2.55h2.5v5.1h-2.5ZM3.10,-2.55h1.6v5.1h-1.6Z"/><g transform="scale(-1,1)"><path fill="#1c4098" d="M13.70,-5.2L24.30,0L13.70,5.2L14.10,2.55L8.60,2.55L8.60,-2.55L14.10,-2.55ZM5.20,-2.55h2.5v5.1h-2.5ZM3.10,-2.55h1.6v5.1h-1.6Z"/></g></g>
<g transform="translate(913.35,494.90) rotate(0.00)"><path fill="#1c4098" d="M13.75,-5.2L24.35,0L13.75,5.2L14.15,2.55L8.65,2.55L8.65,-2.55L14.15,-2.55ZM5.25,-2.55h2.5v5.1h-2.5ZM3.15,-2.55h1.6v5.1h-1.6Z"/><g transform="scale(-1,1)"><path fill="#0b6dbd" d="M13.75,-5.2L24.35,0L13.75,5.2L14.15,2.55L8.65,2.55L8.65,-2.55L14.15,-2.55ZM5.25,-2.55h2.5v5.1h-2.5ZM3.15,-2.55h1.6v5.1h-1.6Z"/></g></g>
<g transform="translate(651.50,561.45) rotate(-32.81)"><path fill="#0b6dbd" d="M13.67,-5.2L24.27,0L13.67,5.2L14.07,2.55L8.57,2.55L8.57,-2.55L14.07,-2.55ZM5.17,-2.55h2.5v5.1h-2.5ZM3.07,-2.55h1.6v5.1h-1.6Z"/><g transform="scale(-1,1)"><path fill="#1c4098" d="M13.67,-5.2L24.27,0L13.67,5.2L14.07,2.55L8.57,2.55L8.57,-2.55L14.07,-2.55ZM5.17,-2.55h2.5v5.1h-2.5ZM3.07,-2.55h1.6v5.1h-1.6Z"/></g></g>
<g transform="translate(869.75,561.45) rotate(33.00)"><path fill="#1c4098" d="M13.55,-5.2L24.15,0L13.55,5.2L13.95,2.55L8.45,2.55L8.45,-2.55L13.95,-2.55ZM5.05,-2.55h2.5v5.1h-2.5ZM2.95,-2.55h1.6v5.1h-1.6Z"/><g transform="scale(-1,1)"><path fill="#0b6dbd" d="M13.55,-5.2L24.15,0L13.55,5.2L13.95,2.55L8.45,2.55L8.45,-2.55L13.95,-2.55ZM5.05,-2.55h2.5v5.1h-2.5ZM2.95,-2.55h1.6v5.1h-1.6Z"/></g></g>
<g transform="translate(769.05,578.15) rotate(90.83)"><path fill="#1c4098" d="M13.65,-5.2L24.25,0L13.65,5.2L14.05,2.55L8.55,2.55L8.55,-2.55L14.05,-2.55ZM5.15,-2.55h2.5v5.1h-2.5ZM3.05,-2.55h1.6v5.1h-1.6Z"/><g transform="scale(-1,1)"><path fill="#0b6dbd" d="M13.65,-5.2L24.25,0L13.65,5.2L14.05,2.55L8.55,2.55L8.55,-2.55L14.05,-2.55ZM5.15,-2.55h2.5v5.1h-2.5ZM3.05,-2.55h1.6v5.1h-1.6Z"/></g></g>
</svg>
</body>
</html>
